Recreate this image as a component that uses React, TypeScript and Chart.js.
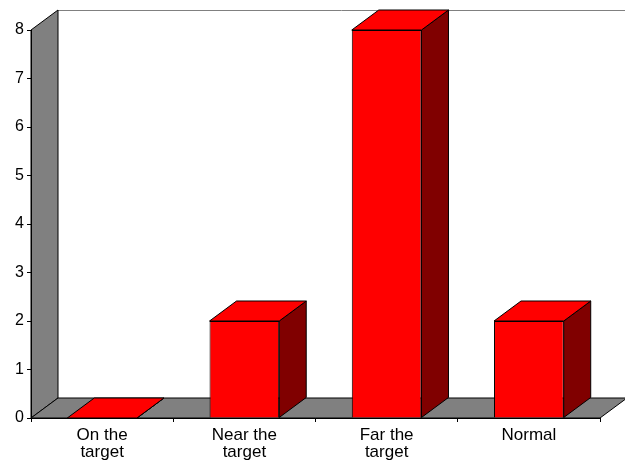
import React, { useEffect, useRef } from "react";
import { Chart, registerables } from "chart.js";

Chart.register(...registerables);

const categories: string[][] = [["On the", "target"], ["Near the", "target"], ["Far the", "target"], ["Normal"]];
const values: number[] = [0, 2, 8, 2];
const yTicks: number[] = [0, 1, 2, 3, 4, 5, 6, 7, 8];

const DX = 27;
const DY = -20;
const FONT = "'Liberation Sans', Arial, sans-serif";

const wallPlugin = {
  id: "wall3d",
  beforeDraw(chart: any) {
    const { ctx, chartArea } = chart;
    const { left, right, top, bottom } = chartArea;
    ctx.save();
    ctx.lineWidth = 1;
    // back wall
    ctx.fillStyle = "#ffffff";
    ctx.fillRect(left + DX, top + DY, right - left + 10, bottom - top);
    ctx.strokeStyle = "#808080";
    ctx.beginPath();
    ctx.moveTo(left + DX, top + DY + 0.5);
    ctx.lineTo(chart.width, top + DY + 0.5);
    ctx.stroke();
    // left side wall
    ctx.fillStyle = "#808080";
    ctx.strokeStyle = "#000000";
    ctx.beginPath();
    ctx.moveTo(left, bottom);
    ctx.lineTo(left, top);
    ctx.lineTo(left + DX, top + DY);
    ctx.lineTo(left + DX, bottom + DY);
    ctx.closePath();
    ctx.fill();
    ctx.stroke();
    // floor
    ctx.beginPath();
    ctx.moveTo(left, bottom);
    ctx.lineTo(right, bottom);
    ctx.lineTo(right + DX, bottom + DY);
    ctx.lineTo(left + DX, bottom + DY);
    ctx.closePath();
    ctx.fill();
    ctx.stroke();
    ctx.restore();
  },
  afterDatasetsDraw(chart: any) {
    const { ctx } = chart;
    const meta = chart.getDatasetMeta(0);
    ctx.save();
    ctx.lineWidth = 1;
    ctx.strokeStyle = "#000000";
    meta.data.forEach((bar: any) => {
      const { x, y, base, width } = bar.getProps(["x", "y", "base", "width"], true);
      const l = x - width / 2;
      const r = x + width / 2;
      // side
      ctx.fillStyle = "#800000";
      ctx.beginPath();
      ctx.moveTo(r, y);
      ctx.lineTo(r + DX, y + DY);
      ctx.lineTo(r + DX, base + DY);
      ctx.lineTo(r, base);
      ctx.closePath();
      ctx.fill();
      ctx.stroke();
      // top
      ctx.fillStyle = "#ff0000";
      ctx.beginPath();
      ctx.moveTo(l, y);
      ctx.lineTo(r, y);
      ctx.lineTo(r + DX, y + DY);
      ctx.lineTo(l + DX, y + DY);
      ctx.closePath();
      ctx.fill();
      ctx.stroke();
    });
    ctx.restore();
  },
};

export default function App() {
  const ref = useRef<HTMLCanvasElement | null>(null);
  useEffect(() => {
    if (!ref.current) return;
    const chart = new Chart(ref.current, {
      type: "bar",
      data: {
        labels: categories,
        datasets: [
          {
            data: values,
            backgroundColor: "#ff0000",
            borderColor: "#000000",
            borderWidth: 1,
            barPercentage: 0.49,
            categoryPercentage: 1,
          },
        ],
      },
      options: {
        responsive: false,
        animation: false,
        devicePixelRatio: 1,
        layout: { padding: { top: 30, right: 25, left: 0, bottom: 0 } },
        plugins: { legend: { display: false }, tooltip: { enabled: false } },
        scales: {
          x: {
            grid: { drawOnChartArea: false, tickLength: 4, color: "#000000", offset: true },
            border: { color: "#000000" },
            ticks: {
              color: "#000000",
              font: { family: FONT, size: 17, lineHeight: 1.05 },
              padding: 4,
              maxRotation: 0,
              autoSkip: false,
            },
            afterFit: (s: any) => {
              s.height = 48;
            },
          },
          y: {
            min: 0,
            max: 8,
            afterBuildTicks: (s: any) => {
              s.ticks = yTicks.map((v) => ({ value: v }));
            },
            grid: { drawOnChartArea: false, tickLength: 4, color: "#000000" },
            border: { color: "#000000" },
            ticks: {
              color: "#000000",
              font: { family: FONT, size: 16 },
              padding: 3,
            },
            afterFit: (s: any) => {
              s.width = 31;
            },
          },
        },
      },
      plugins: [wallPlugin],
    });
    return () => chart.destroy();
  }, []);
  return (
    <div style={{ position: "absolute", left: 0, top: 0, width: 625, height: 466 }}>
      <canvas ref={ref} width={625} height={466} style={{ width: 625, height: 466, display: "block" }} />
    </div>
  );
}
